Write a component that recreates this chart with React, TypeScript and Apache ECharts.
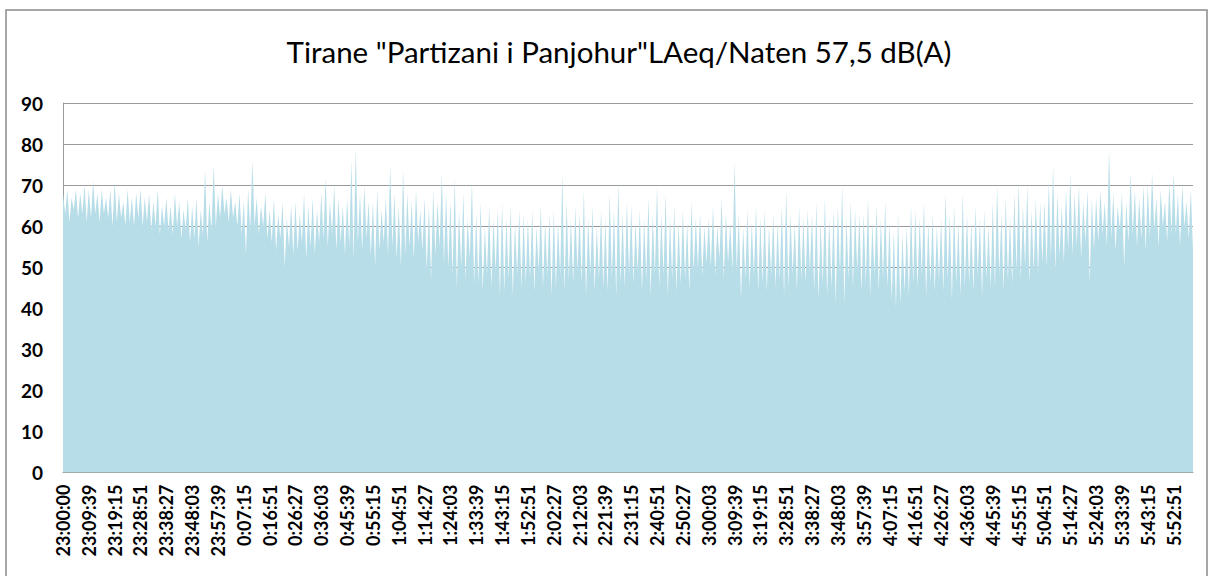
import React, { useEffect, useRef } from "react";
import * as echarts from "echarts";

const titleText = 'Tirane "Partizani i Panjohur"LAeq/Naten 57,5 dB(A)';

const tickLabels = [
  "23:00:00", "23:09:39", "23:19:15", "23:28:51", "23:38:27", "23:48:03", "23:57:39",
  "0:07:15", "0:16:51", "0:26:27", "0:36:03", "0:45:39", "0:55:15", "1:04:51",
  "1:14:27", "1:24:03", "1:33:39", "1:43:15", "1:52:51", "2:02:27", "2:12:03",
  "2:21:39", "2:31:15", "2:40:51", "2:50:27", "3:00:03", "3:09:39", "3:19:15",
  "3:28:51", "3:38:27", "3:48:03", "3:57:39", "4:07:15", "4:16:51", "4:26:27",
  "4:36:03", "4:45:39", "4:55:15", "5:04:51", "5:14:27", "5:24:03", "5:33:39",
  "5:43:15", "5:52:51",
];

// upper envelope (spike tops), 6 readings per label interval
const peakLevels = [
  68, 69, 67, 69, 68, 70,
  69, 71, 68, 69, 67, 69,
  71, 68, 66, 69, 67, 68,
  69, 67, 68, 66, 69, 65,
  67, 65, 68, 66, 64, 67,
  65, 67, 64, 74, 66, 75,
  68, 70, 67, 69, 66, 68,
  66, 69, 76, 67, 65, 68,
  64, 67, 63, 66, 62, 65,
  66, 63, 68, 65, 67, 64,
  68, 72, 66, 70, 67, 65,
  67, 76, 79, 68, 70, 66,
  66, 69, 64, 67, 75, 68,
  65, 74, 68, 66, 69, 64,
  67, 65, 69, 66, 73, 68,
  66, 72, 64, 68, 62, 71,
  63, 66, 60, 65, 62, 64,
  66, 62, 65, 61, 64, 63,
  62, 64, 60, 65, 61, 63,
  64, 61, 73, 66, 62, 65,
  63, 69, 62, 65, 60, 64,
  62, 68, 64, 71, 63, 66,
  65, 61, 64, 62, 67, 63,
  70, 63, 68, 62, 65, 61,
  64, 61, 66, 62, 63, 60,
  62, 65, 60, 67, 63, 61,
  76, 63, 60, 64, 61, 65,
  62, 64, 60, 63, 61, 65,
  69, 63, 61, 65, 62, 64,
  63, 66, 61, 67, 62, 64,
  65, 70, 62, 66, 64, 63,
  63, 67, 61, 65, 62, 66,
  61, 59, 63, 58, 60, 65,
  64, 62, 66, 61, 63, 60,
  62, 68, 63, 65, 61, 68,
  63, 61, 65, 62, 64, 60,
  66, 70, 63, 67, 62, 68,
  71, 65, 70, 64, 67, 66,
  66, 71, 75, 68, 65, 69,
  73, 68, 70, 66, 69, 67,
  67, 69, 66, 79, 68, 65,
  68, 66, 73, 69, 67, 70,
  70, 73, 67, 69, 66, 71,
  73, 68, 70, 66, 69,
];

// lower envelope (dips between spikes), 6 readings per label interval
const floorLevels = [
  63, 61, 64, 62, 63, 61,
  62, 63, 61, 63, 62, 60,
  61, 62, 60, 61, 60, 62,
  60, 61, 59, 60, 58, 60,
  59, 58, 60, 57, 59, 56,
  57, 55, 58, 56, 59, 60,
  62, 63, 61, 62, 60, 58,
  53, 59, 60, 58, 60, 57,
  56, 54, 57, 50, 55, 53,
  54, 56, 52, 55, 53, 56,
  57, 55, 58, 54, 56, 53,
  55, 52, 56, 54, 57, 53,
  50, 54, 56, 53, 55, 52,
  50, 53, 55, 52, 56, 54,
  49, 47, 53, 55, 51, 50,
  48, 45, 50, 47, 52, 46,
  46, 44, 48, 45, 49, 43,
  44, 47, 43, 48, 45, 46,
  47, 44, 49, 45, 48, 43,
  45, 48, 44, 47, 46, 49,
  46, 43, 48, 44, 47, 45,
  44, 47, 43, 46, 45, 48,
  46, 49, 44, 47, 43, 48,
  45, 48, 43, 47, 44, 46,
  47, 44, 49, 50, 48, 51,
  50, 48, 52, 47, 51, 49,
  49, 42, 47, 45, 48, 44,
  46, 44, 48, 45, 47, 43,
  45, 48, 44, 47, 46, 49,
  44, 42, 46, 43, 45, 41,
  48, 41, 47, 45, 49, 44,
  46, 43, 48, 44, 47, 45,
  42, 40, 41, 44, 43, 46,
  45, 48, 43, 46, 44, 47,
  44, 47, 42, 46, 43, 45,
  46, 44, 48, 43, 47, 45,
  45, 48, 44, 47, 46, 49,
  47, 50, 46, 49, 48, 51,
  50, 52, 49, 53, 51, 54,
  53, 55, 52, 56, 46, 54,
  56, 58, 55, 57, 54, 59,
  50, 56, 58, 55, 57, 54,
  57, 59, 55, 60, 56, 58,
  58, 55, 60, 57, 54,
];

const POINTS_PER_LABEL = 12;

export default function App() {
  const ref = useRef<HTMLDivElement>(null);

  useEffect(() => {
    document.body.style.margin = "0";
    if (!ref.current) return;
    const chart = echarts.init(ref.current, null, { renderer: "svg" });

    const values: number[] = [];
    for (let i = 0; i < peakLevels.length; i++) {
      values.push(peakLevels[i]);
      values.push(floorLevels[i]);
    }
    const categories = values.map((_, i) => String(i));

    chart.setOption({
      animation: false,
      backgroundColor: "#ffffff",
      title: {
        text: titleText,
        left: 614,
        top: 31,
        textAlign: "center",
        textStyle: {
          fontFamily: "Lato",
          fontSize: 29.5,
          fontWeight: "normal",
          color: "#000000",
        },
      },
      graphic: [
        {
          type: "rect",
          shape: { x: 6, y: 10, width: 1201, height: 600 },
          style: { fill: "none", stroke: "#8a8a8a", lineWidth: 1.5 },
          silent: true,
          z: 100,
        },
      ],
      grid: { left: 63, top: 103, width: 1130, height: 369.5, containLabel: false },
      xAxis: {
        type: "category",
        data: categories,
        boundaryGap: false,
        axisLine: { show: true, lineStyle: { color: "#9a9a9a", width: 1 } },
        axisTick: { show: false },
        splitLine: { show: false },
        axisLabel: {
          interval: POINTS_PER_LABEL - 1,
          rotate: 90,
          margin: 12,
          fontFamily: "Lato",
          fontWeight: "bold",
          fontSize: 18,
          color: "#000000",
          formatter: (_v: string, idx: number) =>
            tickLabels[Math.round(idx / POINTS_PER_LABEL)] ?? "",
        },
      },
      yAxis: {
        type: "value",
        min: 0,
        max: 90,
        interval: 10,
        axisLine: { show: true, lineStyle: { color: "#9a9a9a", width: 1 } },
        axisTick: { show: false },
        splitLine: { show: true, lineStyle: { color: "#9a9a9a", width: 1 } },
        axisLabel: {
          margin: 20,
          fontFamily: "Lato",
          fontWeight: "bold",
          fontSize: 19,
          color: "#000000",
        },
      },
      series: [
        {
          type: "line",
          data: values,
          showSymbol: false,
          symbol: "none",
          lineStyle: { width: 0, opacity: 0 },
          areaStyle: { color: "#B7DDE8", opacity: 1 },
          silent: true,
        },
      ],
    });

    return () => chart.dispose();
  }, []);

  return <div ref={ref} style={{ width: 1215, height: 576 }} />;
}
